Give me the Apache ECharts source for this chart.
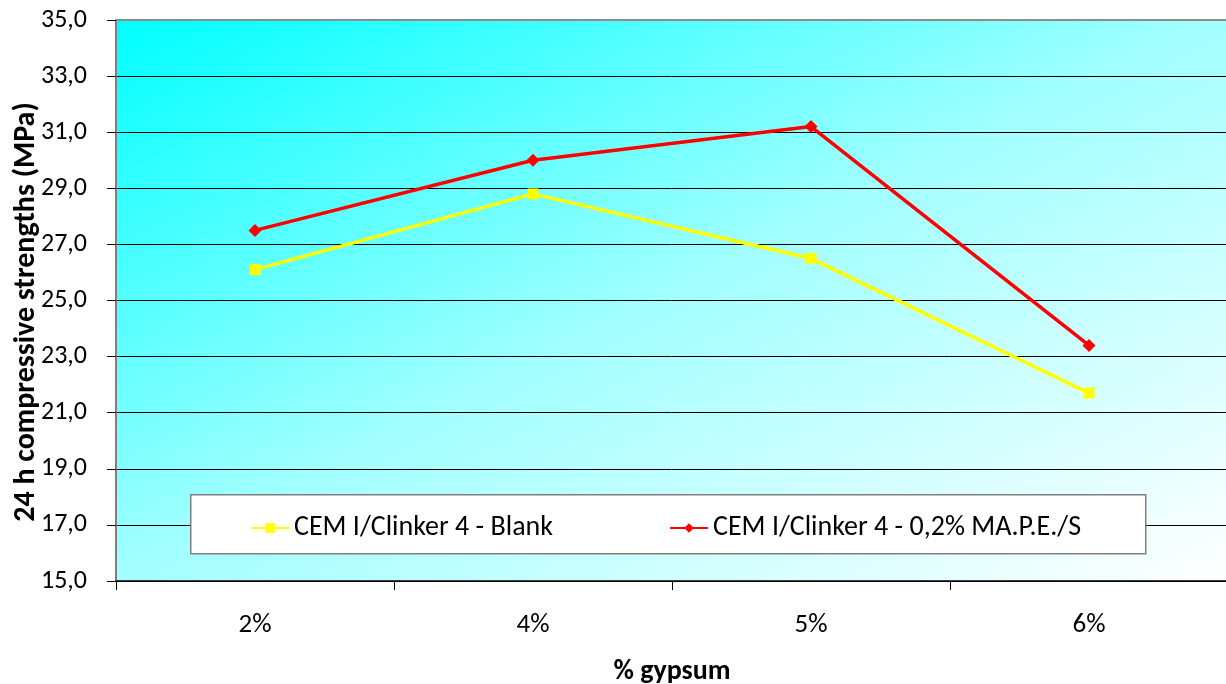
<!DOCTYPE html>
<html><head><meta charset="utf-8">
<script src="https://cdn.jsdelivr.net/npm/echarts@6/dist/echarts.min.js"></script>
<style>html,body{margin:0;padding:0;background:#fff}#c{width:1226px;height:684px}</style>
</head><body><div id="c"></div>
<script>
var categories = ['2%', '4%', '5%', '6%'];
var blankValues = [26.1, 28.8, 26.5, 21.7];
var mapeValues = [27.5, 30.0, 31.2, 23.4];
var seriesNames = ['CEM I/Clinker 4 - Blank', 'CEM I/Clinker 4 - 0,2% MA.P.E./S'];
var yTicks = [15, 17, 19, 21, 23, 25, 27, 29, 31, 33, 35];
var yTitle = '24 h compressive strengths (MPa)';
var xTitle = '% gypsum';

var font = 'Carlito, Lato, sans-serif';
var chart = echarts.init(document.getElementById('c'));
chart.setOption({
  animation: false,
  grid: {
    left: 116, right: -2, top: 20, bottom: 103,
    containLabel: false, outerBoundsMode: 'none',
    show: true, borderWidth: 0,
    backgroundColor: new echarts.graphic.LinearGradient(0, 0, 0.407, 1.593, [
      {offset: 0, color: '#00ffff'},
      {offset: 0.5, color: '#a4ffff'},
      {offset: 1, color: '#ffffff'}
    ])
  },
  graphic: [{
    type: 'rect', left: 190, top: 494, z: 50,
    shape: {width: 955, height: 59},
    style: {fill: '#ffffff', stroke: '#7f7f7f', lineWidth: 1.5}
  }, {
    type: 'line', z: 40,
    shape: {x1: 116, y1: 20, x2: 1226, y2: 20},
    style: {stroke: '#8c8c8c', lineWidth: 2}
  }, {
    type: 'text', x: 26, y: 312, rotation: Math.PI / 2, z: 60,
    style: {text: yTitle, fontFamily: font, fontSize: 30, fontWeight: 'bold', fill: '#000',
      align: 'center', verticalAlign: 'middle'}
  }],
  legend: {
    left: 245, top: 509, z: 60,
    itemGap: 116, itemWidth: 38, itemHeight: 12,
    textStyle: {fontFamily: font, fontSize: 28, color: '#000'},
    data: seriesNames
  },
  xAxis: {
    type: 'category', data: categories, boundaryGap: true,
    name: xTitle, nameLocation: 'middle', nameGap: 77,
    nameTextStyle: {fontFamily: font, fontSize: 28, fontWeight: 'bold', color: '#000'},
    axisLine: {lineStyle: {color: '#000', width: 1.5}},
    axisTick: {show: true, length: 9, lineStyle: {color: '#000'}},
    axisLabel: {fontFamily: font, fontSize: 27, color: '#000', margin: 31}
  },
  yAxis: {
    type: 'value', min: 15, max: 35, interval: 2,
    axisLine: {show: true, lineStyle: {color: '#7f7f7f', width: 2}},
    axisTick: {show: true, length: 9, lineStyle: {color: '#000'}},
    axisLabel: {fontFamily: font, fontSize: 26, color: '#000', margin: 29,
      formatter: function (v) { return yTicks.indexOf(v) >= 0 ? v.toFixed(1).replace('.', ',') : ''; }},
    splitLine: {show: true, lineStyle: {color: '#000', width: 1}}
  },
  series: [{
    name: seriesNames[0], type: 'line', data: blankValues,
    color: '#ffff00', symbol: 'rect', symbolSize: 11,
    lineStyle: {color: '#ffff00', width: 3.5}, itemStyle: {color: '#ffff00'}
  }, {
    name: seriesNames[1], type: 'line', data: mapeValues,
    color: '#ff0000', symbol: 'diamond', symbolSize: 13,
    lineStyle: {color: '#ff0000', width: 3.5}, itemStyle: {color: '#ff0000'}
  }]
});
</script></body></html>
